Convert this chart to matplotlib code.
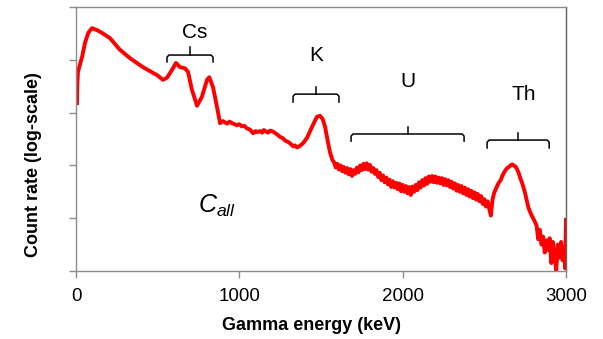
import matplotlib
matplotlib.use("Agg")
import matplotlib.pyplot as plt
import matplotlib.transforms as mtransforms
import numpy as np

plt.rcParams['font.family'] = ['Liberation Sans', 'DejaVu Sans']
plt.rcParams['mathtext.fontset'] = 'custom'
plt.rcParams['mathtext.it'] = 'Liberation Sans:italic'
plt.rcParams['mathtext.rm'] = 'Liberation Sans'

# spectrum: (energy keV, log10 count rate)
spectrum = [
    (6, 3.18), (8, 3.52), (12, 3.77), (25, 3.92), (37, 4.05), (55, 4.32), (75, 4.51),
    (98, 4.60), (130, 4.56), (159, 4.51), (208, 4.41), (269, 4.19), (331, 4.03),
    (410, 3.86), (496, 3.71), (533, 3.62), (557, 3.66), (588, 3.81), (612, 3.94),
    (637, 3.86), (667, 3.84), (686, 3.77), (710, 3.43), (741, 3.13), (771, 3.30),
    (802, 3.62), (816, 3.67), (839, 3.48), (863, 3.11), (882, 2.80), (900, 2.84),
    (925, 2.79), (940, 2.83), (955, 2.80), (970, 2.78), (986, 2.76), (1000, 2.78),
    (1015, 2.74), (1030, 2.75), (1047, 2.70), (1065, 2.68), (1084, 2.61), (1100, 2.65),
    (1110, 2.63), (1127, 2.65), (1140, 2.62), (1150, 2.67), (1165, 2.64), (1175, 2.62),
    (1190, 2.66), (1206, 2.64), (1220, 2.61), (1230, 2.59), (1249, 2.54), (1265, 2.52),
    (1280, 2.47), (1295, 2.45), (1310, 2.42), (1330, 2.36), (1340, 2.38), (1353, 2.34),
    (1371, 2.37), (1390, 2.42), (1414, 2.52), (1445, 2.73), (1475, 2.92), (1494, 2.94),
    (1510, 2.88), (1525, 2.73), (1540, 2.48), (1555, 2.25), (1570, 2.10),
    (1580, 2.06), (1590, 1.96), (1600, 2.03), (1610, 1.92), (1620, 2.00), (1630, 1.89),
    (1640, 1.97), (1650, 1.86), (1660, 1.95), (1670, 1.83), (1680, 1.93), (1690, 1.80),
    (1700, 1.91), (1710, 1.84), (1720, 1.96), (1730, 1.87), (1740, 2.00), (1750, 1.91),
    (1760, 2.03), (1770, 1.93), (1780, 2.04), (1790, 1.92), (1800, 2.01), (1810, 1.88),
    (1820, 1.95), (1830, 1.84), (1840, 1.91), (1850, 1.78), (1860, 1.86), (1870, 1.72),
    (1880, 1.81), (1890, 1.68), (1900, 1.77), (1910, 1.64), (1920, 1.73), (1930, 1.59),
    (1940, 1.70), (1950, 1.58), (1960, 1.67), (1970, 1.55), (1980, 1.66), (1990, 1.51),
    (2000, 1.63), (2010, 1.50), (2020, 1.61), (2030, 1.47), (2040, 1.59), (2050, 1.44),
    (2060, 1.60), (2070, 1.50), (2080, 1.63), (2090, 1.53), (2100, 1.68), (2110, 1.58),
    (2120, 1.72), (2130, 1.62), (2140, 1.76), (2150, 1.65), (2160, 1.79), (2170, 1.69),
    (2180, 1.80), (2190, 1.68), (2200, 1.79), (2210, 1.67), (2220, 1.77), (2230, 1.66),
    (2240, 1.76), (2250, 1.63), (2260, 1.74), (2270, 1.62), (2280, 1.72), (2290, 1.59),
    (2300, 1.69), (2310, 1.56), (2320, 1.66), (2330, 1.52), (2340, 1.63), (2350, 1.50),
    (2360, 1.61), (2370, 1.47), (2380, 1.58), (2390, 1.44), (2400, 1.55), (2410, 1.41),
    (2420, 1.52), (2430, 1.38), (2440, 1.49), (2450, 1.35), (2460, 1.46), (2470, 1.32),
    (2480, 1.42), (2490, 1.27), (2500, 1.36), (2510, 1.22), (2520, 1.32), (2530, 1.18),
    (2540, 1.05), (2550, 1.35), (2560, 1.48), (2570, 1.55), (2580, 1.62), (2590, 1.68),
    (2600, 1.72), (2610, 1.80), (2620, 1.86), (2630, 1.91), (2640, 1.95), (2650, 1.97),
    (2660, 2.00), (2670, 2.02), (2680, 2.00), (2690, 1.98), (2700, 1.93), (2710, 1.86),
    (2720, 1.76), (2730, 1.68), (2740, 1.58), (2750, 1.47), (2760, 1.33), (2770, 1.20),
    (2780, 1.12), (2790, 1.05), (2800, 0.99), (2810, 0.93), (2820, 0.86), (2830, 0.60),
    (2840, 0.78), (2850, 0.50), (2860, 0.65), (2870, 0.35), (2880, 0.58), (2890, 0.40),
    (2900, 0.62), (2910, 0.15), (2920, 0.55), (2930, 0.30), (2940, 0.00), (2950, 0.50),
    (2960, 0.25), (2970, 0.55), (2980, 0.20), (2990, 0.45), (2995, 0.05), (3000, 0.97),
]
energy = np.array([p[0] for p in spectrum], dtype=float)
log_rate = np.array([p[1] for p in spectrum], dtype=float)
count_rate = 10 ** log_rate

# nuclide brackets: label, start keV, end keV, label x keV
br_labels = ['Cs', 'K', 'U', 'Th']
br_start = [557, 1329, 1684, 2517]
br_end = [839, 1610, 2376, 2897]
br_label_x = [729, 1470, 2033, 2740]
# vertical placement (axes fraction): horizontal bar, end tips, centre tick, label
br_bar_y = [0.818, 0.670, 0.519, 0.496]
br_tip_y = [0.792, 0.640, 0.492, 0.466]
br_tick_y = [0.848, 0.697, 0.545, 0.523]
br_text_y = [0.902, 0.818, 0.716, 0.667]

x_ticks = [0, 1000, 2000, 3000]
x_ticklabels = ['0', '1000', '2000', '3000']

fig = plt.figure(figsize=(6.03, 3.39), dpi=100)
ax = fig.add_axes([76/603, 1-271/339, 490/603, 264/339])

ax.plot(energy, count_rate, color='#ff0000', lw=2.8, solid_joinstyle='round')
ax.set_yscale('log')
ax.set_xlim(0, 3000)
ax.set_ylim(1, 1e5)
ax.set_yticks([10**k for k in range(6)])
ax.yaxis.set_minor_locator(matplotlib.ticker.NullLocator())
ax.set_yticklabels([])
ax.set_xticks(x_ticks)
ax.set_xticklabels(x_ticklabels, fontsize=13.5)
ax.tick_params(axis='both', direction='out', length=5, width=1, color='#8c8c8c', pad=7)

for side in ['left', 'bottom', 'top']:
    ax.spines[side].set_color('#8c8c8c')
    ax.spines[side].set_linewidth(1)
ax.spines['right'].set_color('#606060')
ax.spines['right'].set_linewidth(1)

trans = mtransforms.blended_transform_factory(ax.transData, ax.transAxes)
for lab, x0, x1, xl, yb, yt, yk, ytx in zip(br_labels, br_start, br_end, br_label_x,
                                            br_bar_y, br_tip_y, br_tick_y, br_text_y):
    xc = (x0 + x1) / 2
    r = 12
    ax.plot([x0, x0, x0 + r, x1 - r, x1, x1], [yt, yb - 0.008, yb, yb, yb - 0.008, yt],
            color='black', lw=1.1, transform=trans, clip_on=False, solid_joinstyle='round')
    ax.plot([xc, xc], [yb, yk], color='black', lw=1.1, transform=trans, clip_on=False)
    ax.text(xl, ytx, lab, transform=trans, ha='center', va='center', fontsize=15)

ax.text(747, 0.22, r'$C_{all}$', transform=trans, ha='left', va='baseline', fontsize=18)

fig.text(312/603, 1-326/339, 'Gamma energy (keV)', ha='center', va='center',
         fontsize=13, fontweight='bold')
fig.text(34/603, 1-165/339, 'Count rate (log-scale)', ha='center', va='center',
         rotation=90, fontsize=13, fontweight='bold')

fig.savefig('out.png', dpi=100)
